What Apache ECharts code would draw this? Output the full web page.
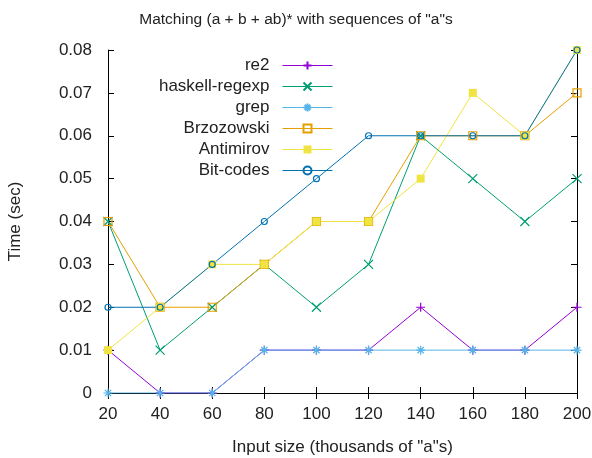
<!DOCTYPE html>
<html>
<head>
<meta charset="utf-8">
<script src="https://cdn.jsdelivr.net/npm/echarts@6/dist/echarts.min.js"></script>
<style>
  html, body { margin: 0; padding: 0; background: #fff; }
  #chart { width: 592px; height: 458px; }
</style>
</head>
<body>
<div id="chart"></div>
<script>
// 数据
var sizes = [20, 40, 60, 80, 100, 120, 140, 160, 180, 200];
var re2 = [0.01, 0, 0, 0.01, 0.01, 0.01, 0.02, 0.01, 0.01, 0.02];
var haskellRegexp = [0.04, 0.01, 0.02, 0.03, 0.02, 0.03, 0.06, 0.05, 0.04, 0.05];
var grep = [0, 0, 0, 0.01, 0.01, 0.01, 0.01, 0.01, 0.01, 0.01];
var brzozowski = [0.04, 0.02, 0.02, 0.03, 0.04, 0.04, 0.06, 0.06, 0.06, 0.07];
var antimirov = [0.01, 0.02, 0.03, 0.03, 0.04, 0.04, 0.05, 0.07, 0.06, 0.08];
var bitCodes = [0.02, 0.02, 0.03, 0.04, 0.05, 0.06, 0.06, 0.06, 0.06, 0.08];

var names = ['re2', 'haskell-regexp', 'grep', 'Brzozowski', 'Antimirov', 'Bit-codes'];
var values = [re2, haskellRegexp, grep, brzozowski, antimirov, bitCodes];
var colors = ['#9400d3', '#009e73', '#56b4e9', '#e69f00', '#f0e442', '#0072b2'];

// 点的形状 (gnuplot 风格)
var symbols = [
    'path://M5,0L5,10M0,5L10,5',
    'path://M0,0L10,10M0,10L10,0',
    'path://M5,0L5,10M0,5L10,5M1.5,1.5L8.5,8.5M1.5,8.5L8.5,1.5',
    'path://M0,0L10,0L10,10L0,10Z',
    'rect',
    'circle'
];
var symbolSizes = [9, 9, 9, 8, 8, 6];

var font = 'Liberation Sans, Arial, sans-serif';
var textColor = '#222';
var fs = 17;

function pairs(arr) {
    return sizes.map(function (x, i) { return [x, arr[i]]; });
}

var chart = echarts.init(document.getElementById('chart'));

var series = names.map(function (name, i) {
    var filled = (i === 4);
    return {
        name: name,
        type: 'line',
        data: pairs(values[i]),
        symbol: symbols[i],
        symbolSize: symbolSizes[i],
        showAllSymbol: true,
        animation: false,
        lineStyle: { color: colors[i], width: 1 },
        itemStyle: {
            color: filled ? colors[i] : 'rgba(0,0,0,0)',
            borderColor: colors[i],
            borderWidth: filled ? 0 : 1.2
        },
        emphasis: { disabled: true }
    };
});

// 每个图例单独放，右对齐
var legends = names.map(function (name, i) {
    return {
        data: [name],
        right: 259,
        top: 57 + i * 21,
        align: 'right',
        orient: 'vertical',
        padding: 0,
        itemWidth: 50,
        itemHeight: 10,
        selectedMode: false,
        lineStyle: { width: 1 },
        textStyle: { fontFamily: font, fontSize: fs, color: textColor, padding: [0, 8, 0, 0] }
    };
});

var axisLine = { show: true, lineStyle: { color: '#000', width: 1 } };
var axisTick = { show: true, inside: true, length: 6, lineStyle: { color: '#000' } };

var option = {
    backgroundColor: '#fff',
    animation: false,
    title: {
        text: 'Matching (a + b + ab)* with sequences of "a"s',
        left: 'center',
        top: 7,
        textStyle: { fontFamily: font, fontSize: 15.5, fontWeight: 'normal', color: textColor }
    },
    legend: legends,
    grid: { left: 108, right: 15, top: 50, bottom: 65, containLabel: false, outerBoundsMode: 'none' },
    xAxis: [
        {
            type: 'value',
            min: 20, max: 200, interval: 20,
            name: 'Input size (thousands of "a"s)',
            nameLocation: 'middle',
            nameGap: 46,
            nameTextStyle: { fontFamily: font, fontSize: fs, color: textColor },
            axisLine: axisLine,
            axisTick: axisTick,
            splitLine: { show: false },
            axisLabel: { fontFamily: font, fontSize: fs, color: textColor, margin: 13 }
        },
        {
            type: 'value',
            position: 'top',
            min: 20, max: 200, interval: 20,
            axisLine: axisLine,
            axisTick: axisTick,
            splitLine: { show: false },
            axisLabel: { show: false }
        }
    ],
    yAxis: [
        {
            type: 'value',
            min: 0, max: 0.08, interval: 0.01,
            name: 'Time (sec)',
            nameLocation: 'middle',
            nameGap: 84,
            nameTextStyle: { fontFamily: font, fontSize: fs, color: textColor },
            axisLine: axisLine,
            axisTick: axisTick,
            splitLine: { show: false },
            axisLabel: { fontFamily: font, fontSize: fs, color: textColor, margin: 16 }
        },
        {
            type: 'value',
            position: 'right',
            min: 0, max: 0.08, interval: 0.01,
            axisLine: axisLine,
            axisTick: axisTick,
            splitLine: { show: false },
            axisLabel: { show: false }
        }
    ],
    series: series
};

chart.setOption(option);
</script>
</body>
</html>
